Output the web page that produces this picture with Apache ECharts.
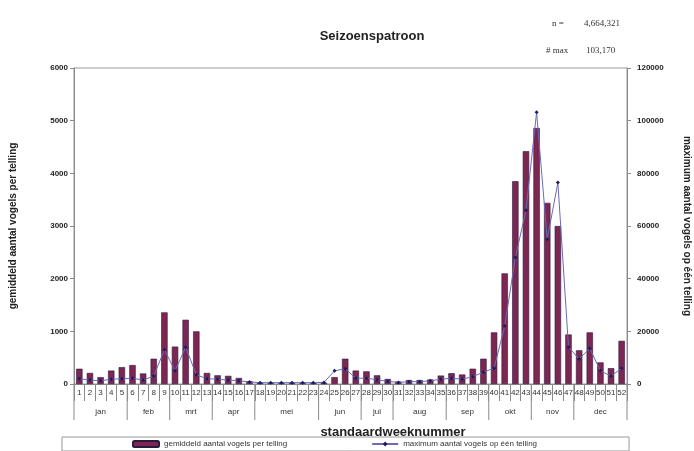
<!DOCTYPE html>
<html>
<head>
<meta charset="utf-8">
<script src="https://cdn.jsdelivr.net/npm/echarts@6/dist/echarts.min.js"></script>
<style>
  html, body { margin: 0; padding: 0; background: #fff; }
  #chart { width: 694px; height: 451px; }
</style>
</head>
<body>
<div id="chart"></div>
<script>
// weeknummers 1..52
var weeks = [];
for (var w = 1; w <= 52; w++) weeks.push(String(w));

// gemiddeld aantal vogels per telling (linker as)
var avgCount = [290, 210, 130, 255, 320, 360, 200, 480, 1360, 710,
                1220, 1000, 210, 165, 155, 115, 50, 25, 20, 20,
                20, 20, 20, 25, 130, 480, 255, 240, 165, 95,
                45, 75, 75, 85, 160, 205, 180, 290, 480, 980,
                2100, 3850, 4420, 4860, 3440, 3000, 940, 640, 980, 410,
                300, 820];

// maximum aantal vogels op een telling (rechter as)
var maxCount = [2000, 1500, 1200, 1800, 2000, 2200, 1500, 3000, 13000, 5000,
                14000, 3500, 2000, 1800, 1500, 1200, 800, 500, 500, 500,
                500, 500, 500, 600, 5000, 5800, 2200, 2200, 1600, 1000,
                600, 900, 900, 1200, 1800, 2200, 1800, 2800, 4500, 6000,
                22000, 48000, 66000, 103170, 55000, 76500, 14000, 9500, 13500, 5000,
                3000, 6000];

// maanden en aantal standaardweken per maand
var monthNames = ['jan', 'feb', 'mrt', 'apr', 'mei', 'jun', 'jul', 'aug', 'sep', 'okt', 'nov', 'dec'];
var monthWeeks = [5, 4, 4, 4, 6, 4, 3, 5, 4, 4, 4, 5];

var leftTicks = [0, 6000, 1000];
var rightTicks = [0, 120000, 20000];

var monthRanges = [];
var start = 0;
monthWeeks.forEach(function (n) {
  monthRanges.push([start, start + n]);
  start += n;
});

var axisGrey = '#8a8a8a';
var labelFont = { fontFamily: 'Liberation Sans, Arial, sans-serif', fontSize: 8, fontWeight: 'bold', color: '#222' };
var plain = function (v) { return String(v); };

var chart = echarts.init(document.getElementById('chart'));
chart.setOption({
  animation: false,
  backgroundColor: '#fff',
  title: [
    { text: 'Seizoenspatroon', left: 367, textAlign: 'center', top: 25,
      textStyle: { fontFamily: 'Liberation Sans, Arial, sans-serif', fontSize: 13, fontWeight: 'bold', color: '#222' } },
    { text: 'n =', left: 547, top: 14,
      textStyle: { fontFamily: 'Liberation Serif, serif', fontSize: 9, fontWeight: 'normal', color: '#333' } },
    { text: '4,664,321', left: 579, top: 14,
      textStyle: { fontFamily: 'Liberation Serif, serif', fontSize: 9, fontWeight: 'normal', color: '#333' } },
    { text: '# max', left: 541, top: 41,
      textStyle: { fontFamily: 'Liberation Serif, serif', fontSize: 9, fontWeight: 'normal', color: '#333' } },
    { text: '103,170', left: 581, top: 41,
      textStyle: { fontFamily: 'Liberation Serif, serif', fontSize: 9, fontWeight: 'normal', color: '#333' } },
    { text: 'standaardweeknummer', left: 388, textAlign: 'center', top: 421,
      textStyle: { fontFamily: 'Liberation Sans, Arial, sans-serif', fontSize: 13, fontWeight: 'bold', color: '#222' } }
  ],
  legend: {
    left: 62,
    top: 437,
    padding: [3, 92, 3, 70],
    itemGap: 84,
    itemWidth: 26,
    itemHeight: 6,
    borderColor: '#999',
    borderWidth: 1,
    textStyle: { fontFamily: 'Liberation Sans, Arial, sans-serif', fontSize: 8, color: '#333' },
    data: ['gemiddeld aantal vogels per telling', 'maximum aantal vogels op één telling']
  },
  grid: {
    left: 74, right: 67, top: 68, bottom: 67,
    outerBoundsMode: 'none',
    show: true, borderColor: '#999', borderWidth: 1
  },
  xAxis: [{
    type: 'category',
    data: weeks,
    boundaryGap: true,
    axisLine: { lineStyle: { color: axisGrey } },
    axisTick: { show: true, interval: 0, length: 17, lineStyle: { color: axisGrey } },
    axisLabel: { interval: 0, margin: 5, fontFamily: 'Liberation Sans Narrow, Liberation Sans, sans-serif', fontSize: 8, color: '#333' }
  }, {
    type: 'value',
    min: 0, max: 52,
    show: false
  }],
  yAxis: [{
    type: 'value',
    min: leftTicks[0], max: leftTicks[1], interval: leftTicks[2],
    name: 'gemiddeld aantal vogels per telling',
    nameLocation: 'middle',
    nameRotate: 90,
    nameGap: 56,
    nameTextStyle: { fontFamily: 'Liberation Sans, Arial, sans-serif', fontSize: 10, fontWeight: 'bold', color: '#222' },
    axisLine: { show: true, lineStyle: { color: axisGrey } },
    axisTick: { show: true, length: 4, lineStyle: { color: axisGrey } },
    axisLabel: Object.assign({ margin: 6, formatter: plain }, labelFont),
    splitLine: { show: false }
  }, {
    type: 'value',
    position: 'right',
    min: rightTicks[0], max: rightTicks[1], interval: rightTicks[2],
    name: 'maximum aantal vogels op één telling',
    nameLocation: 'middle',
    nameRotate: -90,
    nameGap: 55,
    nameTextStyle: { fontFamily: 'Liberation Sans, Arial, sans-serif', fontSize: 10, fontWeight: 'bold', color: '#222' },
    axisLine: { show: true, lineStyle: { color: axisGrey } },
    axisTick: { show: true, length: 4, lineStyle: { color: axisGrey } },
    axisLabel: Object.assign({ margin: 10, formatter: plain }, labelFont),
    splitLine: { show: false }
  }],
  series: [{
    name: 'gemiddeld aantal vogels per telling',
    type: 'bar',
    xAxisIndex: 0,
    yAxisIndex: 0,
    barCategoryGap: '40%',
    itemStyle: { color: '#7e2652', borderColor: '#2c1a3e', borderWidth: 0.6 },
    data: avgCount
  }, {
    name: 'maximum aantal vogels op één telling',
    type: 'line',
    xAxisIndex: 0,
    yAxisIndex: 1,
    symbol: 'diamond',
    symbolSize: 4,
    lineStyle: { color: '#6a6ab8', width: 1 },
    itemStyle: { color: '#1c1c5e' },
    data: maxCount
  }, {
    // maandenrij onder de weeknummers
    type: 'custom',
    xAxisIndex: 1,
    yAxisIndex: 0,
    silent: true,
    clip: false,
    renderItem: function (params, api) {
      var p0 = api.coord([api.value(0), 0]);
      var p1 = api.coord([api.value(1), 0]);
      var kids = [
        { type: 'line', shape: { x1: p1[0], y1: p1[1], x2: p1[0], y2: p1[1] + 36 },
          style: { stroke: axisGrey, lineWidth: 1 } },
        { type: 'text', style: { text: monthNames[params.dataIndex], x: (p0[0] + p1[0]) / 2, y: p1[1] + 28,
          align: 'center', verticalAlign: 'middle',
          font: '8px Liberation Sans, Arial, sans-serif', fill: '#333' } }
      ];
      if (params.dataIndex === 0) {
        kids.push({ type: 'line', shape: { x1: p0[0], y1: p0[1], x2: p0[0], y2: p0[1] + 36 },
          style: { stroke: axisGrey, lineWidth: 1 } });
      }
      return { type: 'group', children: kids };
    },
    data: monthRanges
  }]
});
</script>
</body>
</html>
